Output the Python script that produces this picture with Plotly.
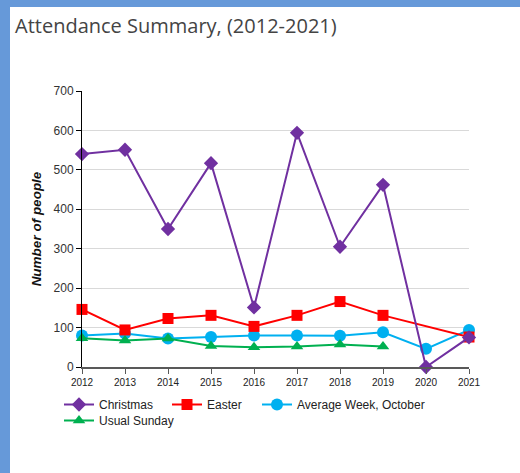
import plotly.graph_objects as go

years = [2012, 2013, 2014, 2015, 2016, 2017, 2018, 2019, 2020, 2021]
christmas = [540, 551, 350, 517, 151, 594, 305, 462, 0, 75]
easter = [146, 94, 123, 131, 103, 131, 166, 131, None, 76]
avg_week_oct = [80, 85, 72, 76, 80, 80, 79, 88, 46, 94]
usual_sunday = [73, 67, 72, 53, 50, 52, 57, 52, None, None]
y_ticks = [0, 100, 200, 300, 400, 500, 600, 700]

W, H = 520, 473
ML, MR, MT, MB = 82, 51, 91, 106
PW = W - ML - MR
PH = H - MT - MB

def px_x(p):
    return (p - ML) / PW

def px_y(p):
    return 1 - (p - MT) / PH

fig = go.Figure()

fig.add_trace(go.Scatter(
    x=years, y=avg_week_oct, name="Average Week, October", mode="lines+markers",
    line=dict(color="#00B0F0", width=2),
    marker=dict(symbol="circle", size=12, color="#00B0F0"),
    cliponaxis=False, legend="legend3"))
fig.add_trace(go.Scatter(
    x=years, y=usual_sunday, name="Usual Sunday", mode="lines+markers",
    line=dict(color="#00B050", width=2),
    marker=dict(symbol="triangle-up", size=11, color="#00B050"),
    cliponaxis=False, legend="legend4"))
fig.add_trace(go.Scatter(
    x=years, y=easter, name="Easter", mode="lines+markers", connectgaps=True,
    line=dict(color="#FF0000", width=2),
    marker=dict(symbol="square", size=11, color="#FF0000"),
    cliponaxis=False, legend="legend2"))
fig.add_trace(go.Scatter(
    x=years, y=christmas, name="Christmas", mode="lines+markers",
    line=dict(color="#7030A0", width=2),
    marker=dict(symbol="diamond", size=11, color="#7030A0"),
    cliponaxis=False, legend="legend"))

border = "#6699D9"
fig.add_shape(type="rect", xref="paper", yref="paper", layer="below",
              x0=px_x(0), x1=px_x(10), y0=px_y(H), y1=px_y(0),
              fillcolor=border, line_width=0)
fig.add_shape(type="rect", xref="paper", yref="paper", layer="below",
              x0=px_x(0), x1=px_x(W), y0=px_y(7), y1=px_y(0),
              fillcolor=border, line_width=0)

def leg(xp, yp):
    return dict(orientation="h", x=px_x(xp), xanchor="left", y=px_y(yp), yanchor="top",
                font=dict(size=12, color="#222222", family="Liberation Sans, Arial"),
                bgcolor="rgba(0,0,0,0)", itemwidth=30)

fig.update_layout(
    width=W, height=H,
    margin=dict(l=ML, r=MR, t=MT, b=MB),
    paper_bgcolor="white", plot_bgcolor="white",
    title=dict(text="Attendance Summary, (2012-2021)", x=15 / W, xanchor="left",
               y=1 - 26 / H, yanchor="middle",
               font=dict(family="Open Sans", size=20, color="#444444")),
    font=dict(family="Liberation Sans, Arial", color="#222222"),
    showlegend=True,
    legend=leg(59, 390),
    legend2=leg(167, 390),
    legend3=leg(257, 390),
    legend4=leg(59, 406),
    xaxis=dict(range=[2012, 2021], tickmode="array", tickvals=years,
               ticktext=[str(y) for y in years],
               showgrid=False, zeroline=False, showline=True,
               linecolor="#595959", linewidth=2, ticks="outside", ticklen=5,
               tickcolor="#595959", tickfont=dict(size=10, color="#222222")),
    yaxis=dict(range=[0, 700], tickmode="array", tickvals=y_ticks,
               showgrid=True, gridcolor="#d9d9d9", gridwidth=1, zeroline=False,
               showline=True, linecolor="#000000", linewidth=1,
               ticks="outside", ticklen=5, tickcolor="#000000",
               tickfont=dict(size=12, color="#333333"),
               title=dict(text="<b><i>Number of people</i></b>", standoff=8,
                          font=dict(size=13.5, color="#111111"))),
)

fig.write_html("out.html", config={"displayModeBar": False},
               post_script="document.body.style.margin='0';document.body.style.overflow='hidden';")
